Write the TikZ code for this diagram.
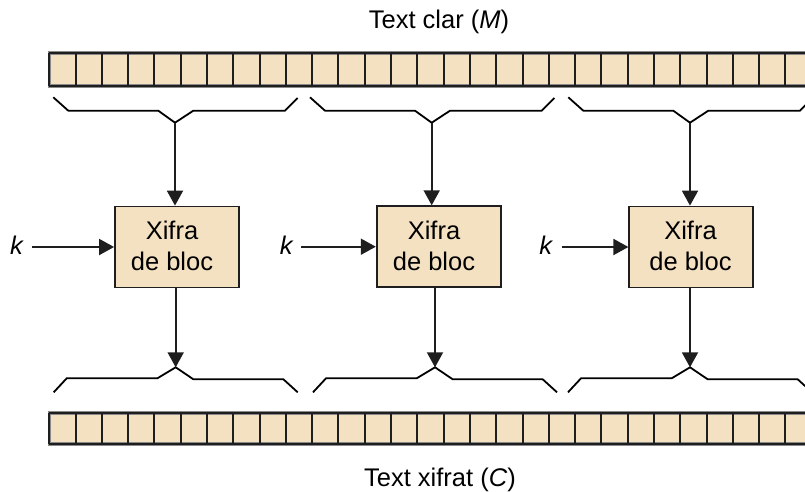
\documentclass[tikz,border=0pt]{standalone}
\usepackage{fontspec}
\setmainfont{Liberation Sans}
\usetikzlibrary{arrows.meta}
\definecolor{cellfill}{HTML}{F4E1C1}
\definecolor{ink}{HTML}{1E1E1E}
\definecolor{rim}{HTML}{8A8A8A}
\begin{document}
\begin{tikzpicture}[x=1pt,y=-1pt,
  wire/.style={draw=ink, line width=1.9pt},
  arr/.style={wire,-{Triangle[length=15pt,width=16pt]}},
  brace/.style={draw=black, line width=1.8pt, line join=miter},
  blk/.style={draw=ink, line width=1.8pt, fill=cellfill, minimum width=124pt, minimum height=81pt, inner sep=0pt},
  blktxt/.style={font=\fontsize{25.5}{30.7}\selectfont, align=center, inner sep=0pt},
  lbl/.style={font=\fontsize{25.5}{29}\selectfont, inner sep=0pt},
]
\useasboundingbox (0,0) rectangle (805,491);
\clip (0,0) rectangle (805,491);

% plaintext and ciphertext block strips
\foreach \ya/\yb in {53/86, 413/444} {
  \draw[rim, line width=3.6pt, fill=cellfill] (49.3,\ya) rectangle (840,\yb);
  \foreach \i in {0,...,29}
    \draw[ink, line width=2pt] ({49.3+26.29*\i},\ya) -- ({49.3+26.29*\i},\yb);
  \draw[ink, line width=1.6pt] (49.3,\ya) rectangle (840,\yb);
}

% braces grouping the plaintext cells
\foreach \t in {175,431.7,690}
  \draw[brace] (\t-121.7,97.3) -- (\t-106.7,110.7) -- (\t-16.7,110.7) -- (\t,122.7)
               -- (\t+18.3,110.7) -- (\t+110,110.7) -- (\t+122.7,98);
\coordinate (t1) at (175,122.7);
\coordinate (t2) at (431.7,122.7);
\coordinate (t3) at (690,122.7);

% braces gathering the ciphertext cells
\foreach \t in {175.7,435,690}
  \draw[brace] (\t-122,392.3) -- (\t-109,378.3) -- (\t-18.3,378.3) -- (\t,367.3)
               -- (\t+17.7,379.3) -- (\t+107.7,379.3) -- (\t+122,392.3);
\coordinate (u1) at (175.7,367.3);
\coordinate (u2) at (435,367.3);
\coordinate (u3) at (690,367.3);

% block cipher boxes
\node[blk] (b1) at (177,247) {};
\node[blk] (b2) at (438.7,246.7) {};
\node[blk] (b3) at (691.3,247) {};
\node[blktxt] (x1) at (172,246) {Xifra\\de bloc};
\node[blktxt] (x2) at (434,246) {Xifra\\de bloc};
\node[blktxt] (x3) at (690.5,246) {Xifra\\de bloc};

% key inputs
\node[lbl, anchor=base, inner xsep=7.5pt] (k1) at (17,254) {\textit{k}};
\node[lbl, anchor=base, inner xsep=7.5pt] (k2) at (286.7,254) {\textit{k}};
\node[lbl, anchor=base, inner xsep=9pt] (k3) at (546.3,254) {\textit{k}};

\foreach \i in {1,2,3} {
  \draw[arr] (k\i.east |- b\i.west) -- (b\i.west);
  \draw[arr] (t\i) -- (t\i |- b\i.north);
  \draw[arr] (u\i |- b\i.south) -- (u\i);
}

% titles
\node[lbl, anchor=base] (ttop) at (439,28) {Text clar (\textit{M})};
\node[lbl, anchor=base] (tbot) at (440,486) {Text xifrat (\textit{C})};
\end{tikzpicture}
\end{document}
